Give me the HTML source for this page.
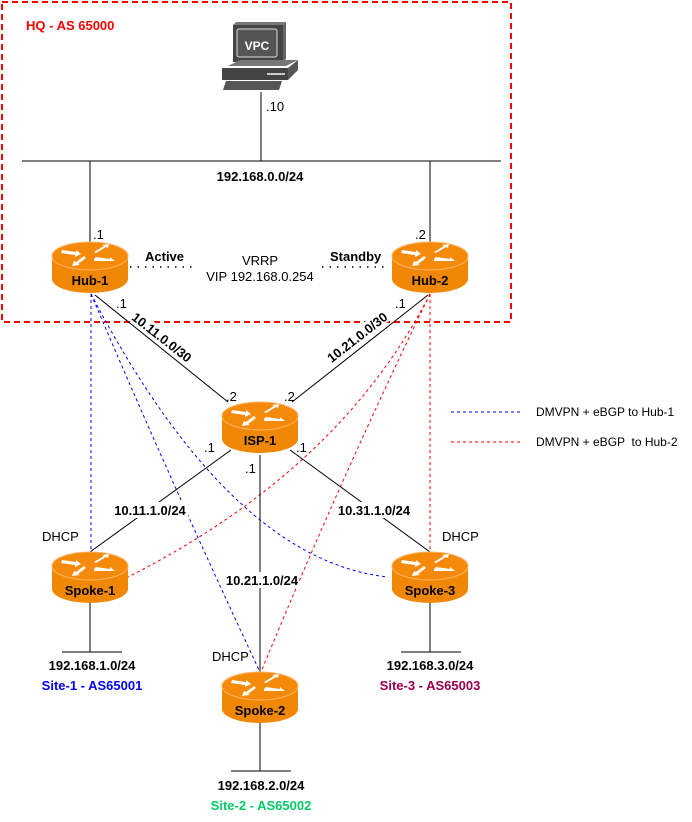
<!DOCTYPE html>
<html><head><meta charset="utf-8"><style>
html,body{margin:0;padding:0;background:#fff;}
svg{display:block;font-family:"Liberation Sans",Arial,sans-serif;}
.t{font-size:13px;font-weight:bold;fill:#000;}
.n{font-size:13px;fill:#000;}
</style></head><body>
<svg width="692" height="822" viewBox="0 0 692 822" xmlns="http://www.w3.org/2000/svg">
<defs>
<g id="r">
<path d="M-38,0 v23 a38,14 0 0 0 76,0 v-23 z" fill="#f08705"/>
<ellipse cx="0" cy="0" rx="38" ry="14" fill="#f58a0a" stroke="#ffb366" stroke-width="1"/>
<g fill="#fff">
<path d="M-28,-6 l14,2 l0,-2 l5,4 l-6,3 l0,-2 l-14,-2z"/>
<path d="M4,-4 l10,-6 l-2,-1 l7,-1 l-1,4 l-2,-1 l-10,6z"/>
<path d="M8,2 l14,2 l0,-2 l5,4 h-21 l0,-2z" transform="translate(-2,-1)"/>
<path d="M-4,2 l-8,6 l2,1 l-8,1 l2,-5 l2,1 l8,-6z"/>
</g>
</g>
</defs>

<rect x="2" y="2" width="509" height="320" fill="none" stroke="#ff0000" stroke-width="2" stroke-dasharray="6,4"/>
<text x="26" y="30" font-size="13" font-weight="bold" fill="#ff0000">HQ - AS 65000</text>

<g>
<path d="M233,25 l50,0 l3,-3 l-50,0z" fill="#777"/>
<rect x="233" y="25" width="50" height="37" fill="#444"/>
<path d="M283,25 l3,-3 v37 l-3,3z" fill="#666"/>
<rect x="237" y="29" width="40" height="28" fill="#555" stroke="#ddd" stroke-width="1" rx="2"/>
<text x="257" y="50" text-anchor="middle" font-size="12" font-weight="bold" fill="#fff">VPC</text>
<path d="M228,66 l58,0 l12,-6 l-58,0z" fill="#777"/>
<rect x="222" y="68" width="66" height="12" fill="#444"/>
<path d="M288,68 l10,-8 v10 l-10,10z" fill="#555"/>
<rect x="267" y="73" width="18" height="2" fill="#ccc"/>
<path d="M226,81 l56,0 l-3,9 h-56z" fill="#555"/>
</g>
<line x1="261" y1="92" x2="261" y2="161" stroke="#000"/>
<text x="266" y="111" class="n">.10</text>

<line x1="22" y1="161" x2="501" y2="161" stroke="#000"/>
<text x="260" y="181" class="t" text-anchor="middle">192.168.0.0/24</text>
<line x1="90" y1="161" x2="90" y2="242" stroke="#000"/>
<line x1="430" y1="161" x2="430" y2="242" stroke="#000"/>
<text x="93" y="239" class="n">.1</text>
<text x="415" y="239" class="n">.2</text>

<line x1="130" y1="267" x2="195" y2="267" stroke="#000" stroke-width="1.5" stroke-dasharray="1.5,6"/>
<line x1="322" y1="267" x2="386" y2="267" stroke="#000" stroke-width="1.5" stroke-dasharray="1.5,6"/>
<text x="145" y="261" class="t">Active</text>
<text x="330" y="261" class="t">Standby</text>
<text x="260" y="265" class="n" text-anchor="middle">VRRP</text>
<text x="260" y="281" class="n" text-anchor="middle">VIP 192.168.0.254</text>

<g fill="none" stroke="#0000ff" stroke-dasharray="3,3">
<line x1="91" y1="294" x2="91" y2="552"/>
<path d="M91,294 Q170,480 260,672"/>
<path d="M91,294 Q230,560 388,577"/>
</g>
<g fill="none" stroke="#ff0000" stroke-dasharray="3,3">
<line x1="430" y1="294" x2="430" y2="552"/>
<path d="M430,294 Q340,480 261,672"/>
<path d="M430,294 Q340,470 128,577"/>
</g>

<g stroke="#000" fill="none">
<line x1="95" y1="295" x2="228" y2="402"/>
<line x1="428" y1="295" x2="292" y2="402"/>
<line x1="231" y1="450" x2="90" y2="552"/>
<line x1="290" y1="450" x2="430" y2="552"/>
<line x1="260" y1="455" x2="260" y2="672"/>
<line x1="90" y1="603" x2="90" y2="652"/>
<line x1="62" y1="652" x2="122" y2="652"/>
<line x1="430" y1="603" x2="430" y2="652"/>
<line x1="401" y1="652" x2="461" y2="652"/>
<line x1="260" y1="723" x2="260" y2="771"/>
<line x1="231" y1="771" x2="291" y2="771"/>
</g>

<rect x="128" y="330" width="70" height="14" fill="#fff" transform="rotate(38 162 337)"/>
<text x="162" y="342" class="t" text-anchor="middle" transform="rotate(38 162 337)">10.11.0.0/30</text>
<rect x="322" y="330" width="70" height="14" fill="#fff" transform="rotate(-38 357 337)"/>
<text x="357" y="342" class="t" text-anchor="middle" transform="rotate(-38 357 337)">10.21.0.0/30</text>
<text x="116" y="308" class="n">.1</text>
<text x="395" y="308" class="n">.1</text>
<text x="226" y="401" class="n">.2</text>
<text x="284" y="401" class="n">.2</text>
<text x="204" y="452" class="n">.1</text>
<text x="296" y="452" class="n">.1</text>
<text x="245" y="473" class="n">.1</text>
<rect x="112" y="502" width="76" height="16" fill="#fff"/>
<text x="150" y="515" class="t" text-anchor="middle">10.11.1.0/24</text>
<rect x="336" y="502" width="76" height="16" fill="#fff"/>
<text x="374" y="515" class="t" text-anchor="middle">10.31.1.0/24</text>
<rect x="223" y="572" width="76" height="16" fill="#fff"/>
<text x="262" y="585" class="t" text-anchor="middle">10.21.1.0/24</text>

<use href="#r" x="90" y="256"/>
<text x="90" y="285" class="t" text-anchor="middle">Hub-1</text>
<use href="#r" x="430" y="256"/>
<text x="430" y="285" class="t" text-anchor="middle">Hub-2</text>
<use href="#r" x="260" y="416"/>
<text x="260" y="445" class="t" text-anchor="middle">ISP-1</text>
<use href="#r" x="90" y="566"/>
<text x="90" y="595" class="t" text-anchor="middle">Spoke-1</text>
<use href="#r" x="430" y="566"/>
<text x="430" y="595" class="t" text-anchor="middle">Spoke-3</text>
<use href="#r" x="260" y="686"/>
<text x="260" y="715" class="t" text-anchor="middle">Spoke-2</text>

<text x="42" y="541" class="n">DHCP</text>
<text x="442" y="541" class="n">DHCP</text>
<text x="212" y="661" class="n">DHCP</text>

<text x="92" y="670" class="t" text-anchor="middle">192.168.1.0/24</text>
<text x="92" y="690" class="t" text-anchor="middle" style="fill:#0000ff">Site-1 - AS65001</text>
<text x="430" y="670" class="t" text-anchor="middle">192.168.3.0/24</text>
<text x="430" y="690" class="t" text-anchor="middle" style="fill:#99004d">Site-3 - AS65003</text>
<text x="261" y="790" class="t" text-anchor="middle">192.168.2.0/24</text>
<text x="261" y="810" class="t" text-anchor="middle" style="fill:#00cc66">Site-2 - AS65002</text>

<line x1="451" y1="412" x2="521" y2="412" stroke="#0000ff" stroke-dasharray="3,3"/>
<text x="536" y="416" class="n" style="font-size:12px">DMVPN + eBGP to Hub-1</text>
<line x1="451" y1="442" x2="521" y2="442" stroke="#ff0000" stroke-dasharray="3,3"/>
<text x="536" y="446" class="n" style="font-size:12px" xml:space="preserve">DMVPN + eBGP  to Hub-2</text>
</svg>
</body></html>
